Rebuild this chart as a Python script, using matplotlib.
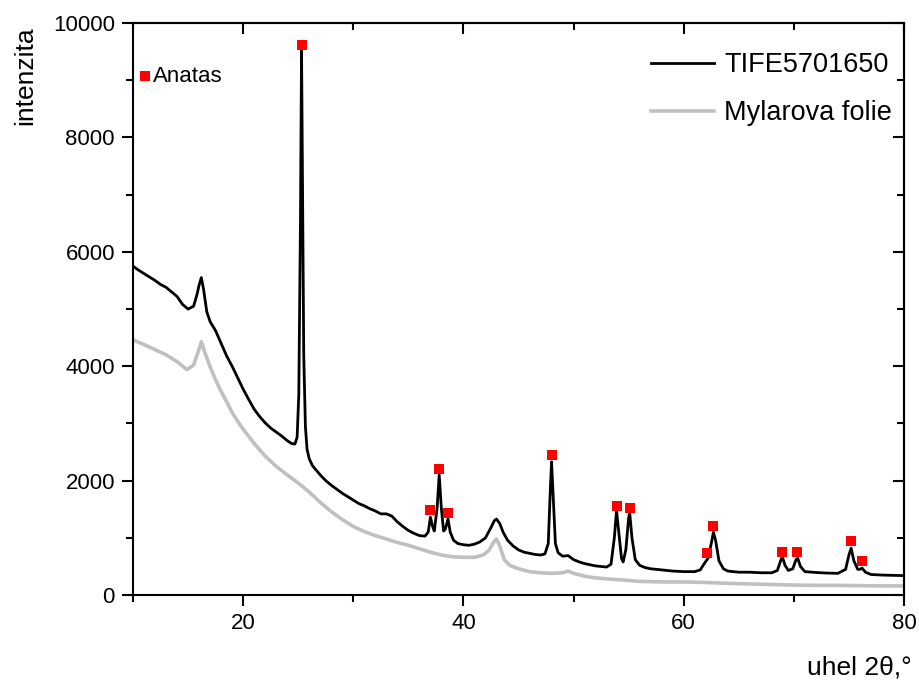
import matplotlib
matplotlib.use("Agg")
import matplotlib.pyplot as plt
from matplotlib.ticker import MultipleLocator, NullFormatter

plt.rcParams['font.family'] = ['Liberation Sans', 'DejaVu Sans']

# DATA

tife_x = [10, 10.5, 11, 11.5, 12, 12.5, 13, 13.5, 14, 14.5, 15, 15.5, 15.8, 16.0, 16.2,
          16.4, 16.7, 17.0, 17.5, 18, 18.5, 19, 19.5, 20, 20.5, 21, 21.5, 22, 22.5, 23,
          23.5, 24, 24.4, 24.7, 24.9, 25.05, 25.2, 25.3, 25.4, 25.5, 25.65, 25.8, 26.0,
          26.3, 26.7, 27, 27.5, 28, 28.5, 29, 29.5, 30, 30.5, 31, 31.5, 32, 32.5, 33,
          33.5, 34, 34.5, 35, 35.5, 36, 36.5, 36.8, 37.0, 37.2, 37.35, 37.6, 37.8, 38.0,
          38.2, 38.35, 38.6, 38.8, 39.1, 39.5, 40, 40.5, 41, 41.5, 42, 42.5, 42.8, 43.0,
          43.3, 43.6, 44.0, 44.5, 45, 45.5, 46, 46.5, 47, 47.4, 47.7, 47.9, 48.0, 48.15,
          48.35, 48.6, 49, 49.5, 50, 50.5, 51, 51.5, 52, 52.5, 53, 53.4, 53.7, 53.9, 54.1,
          54.35, 54.5, 54.75, 55.0, 55.1, 55.3, 55.6, 56, 56.5, 57, 58, 59, 60, 61, 61.5,
          61.9, 62.2, 62.5, 62.7, 62.9, 63.2, 63.6, 64, 65, 66, 67, 68, 68.5, 68.8, 68.95,
          69.2, 69.5, 69.9, 70.2, 70.35, 70.6, 71, 72, 73, 74, 74.7, 75.0, 75.2, 75.45,
          75.8, 76.0, 76.2, 76.5, 77, 78, 79, 80]
tife_y = [5750, 5680, 5620, 5560, 5500, 5430, 5380, 5300, 5220, 5080, 5000, 5050, 5250, 5420, 5550,
          5350, 4950, 4780, 4620, 4400, 4180, 4000, 3800, 3600, 3420, 3250, 3120, 3010, 2920, 2850,
          2780, 2700, 2650, 2640, 2760, 3500, 6500, 9550, 7000, 4200, 2950, 2550, 2380,
          2260, 2170, 2100, 2000, 1920, 1850, 1780, 1720, 1660, 1600, 1560, 1510, 1470, 1420, 1420,
          1380, 1280, 1200, 1130, 1080, 1040, 1030, 1100, 1360, 1200, 1120, 1500, 2100, 1500,
          1120, 1150, 1330, 1100, 960, 900, 880, 870, 890, 930, 1000, 1180, 1300, 1330,
          1250, 1100, 960, 860, 790, 750, 730, 710, 700, 720, 900, 1900, 2330, 1700,
          900, 740, 680, 690, 620, 580, 550, 530, 510, 500, 490, 540, 1000, 1480, 1100,
          640, 580, 800, 1350, 1430, 1000, 620, 520, 480, 460, 440, 420, 410, 410, 440,
          560, 640, 900, 1100, 950, 600, 460, 420, 400, 400, 390, 390, 430, 600, 670,
          520, 430, 460, 620, 645, 500, 410, 395, 385, 380, 450, 700, 820, 600,
          450, 450, 470, 400, 360, 350, 345, 340]

mylar_x = [10, 11, 12, 13, 14, 14.9, 15.5, 16.0, 16.2, 16.5, 17.0, 17.5, 18, 18.5, 19, 19.5,
           20, 21, 22, 23, 24, 25, 26, 27, 28, 29, 30, 31, 32, 33, 34, 35, 36, 37, 38, 39,
           40, 41, 41.8, 42.3, 42.8, 43.0, 43.3, 43.7, 44.2, 45, 46, 47, 48, 49, 49.5, 50,
           51, 52, 54, 56, 58, 60, 62, 64, 66, 68, 70, 72, 74, 76, 78, 80]
mylar_y = [4460, 4380, 4290, 4200, 4080, 3940, 4020, 4300, 4430, 4250, 3990, 3760, 3560, 3380, 3190, 3040,
           2900, 2650, 2430, 2250, 2100, 1960, 1800, 1620, 1460, 1320, 1200, 1110, 1040, 980, 920, 870, 810, 750, 700, 670,
           660, 660, 700, 780, 940, 980, 860, 620, 520, 460, 410, 390, 380, 390, 420, 380,
           330, 300, 270, 240, 230, 230, 220, 205, 195, 185, 175, 170, 170, 165, 160, 160]

anatas_x = [25.35, 37.0, 37.8, 38.6, 48.0, 53.9, 55.1, 62.1, 62.7, 68.9, 70.3, 75.2, 76.2]
anatas_y = [9615, 1486, 2203, 1440, 2448, 1556, 1521, 734, 1212, 757, 752, 950, 600]

# PLOT

fig = plt.figure(figsize=(9.2, 6.84), dpi=100)
ax = fig.add_axes([0.1446, 0.130, 0.838, 0.8363])

ax.plot(mylar_x, mylar_y, color='#c0c0c0', lw=2.6, label='Mylarova folie', zorder=2)
ax.plot(tife_x, tife_y, color='black', lw=2.0, label='TIFE5701650', zorder=3)
ax.plot(anatas_x, anatas_y, 's', color='red', ms=6.5, mew=0, zorder=4)

ax.set_xlim(10, 80)
ax.set_ylim(0, 10000)

ax.xaxis.set_major_locator(MultipleLocator(20))
ax.xaxis.set_minor_locator(MultipleLocator(10))
ax.yaxis.set_major_locator(MultipleLocator(2000))
ax.yaxis.set_minor_locator(MultipleLocator(1000))
ax.tick_params(which='major', direction='out', length=8, width=1.5, labelsize=16, pad=5)
ax.tick_params(which='minor', direction='out', length=5, width=1.5)

top = ax.secondary_xaxis('top')
top.xaxis.set_major_locator(MultipleLocator(20))
top.xaxis.set_minor_locator(MultipleLocator(10))
top.xaxis.set_major_formatter(NullFormatter())
top.tick_params(which='major', direction='in', length=8, width=1.5)
top.tick_params(which='minor', direction='in', length=5, width=1.5)

right = ax.secondary_yaxis('right')
right.yaxis.set_major_locator(MultipleLocator(2000))
right.yaxis.set_minor_locator(MultipleLocator(1000))
right.yaxis.set_major_formatter(NullFormatter())
right.tick_params(which='major', direction='in', length=8, width=1.5)
right.tick_params(which='minor', direction='in', length=5, width=1.5)

for sp in ax.spines.values():
    sp.set_linewidth(1.5)
for a in (top, right):
    for sp in a.spines.values():
        sp.set_linewidth(1.5)

handles, labels = ax.get_legend_handles_labels()
ax.legend(handles[::-1], labels[::-1], loc='upper right', frameon=False, fontsize=19.5,
          handlelength=2.35, handletextpad=0.35, labelspacing=0.8,
          borderaxespad=0.05, bbox_to_anchor=(1.0, 0.97))

ax.plot([0.0156], [0.907], 's', color='red', ms=6.5, mew=0,
        transform=ax.transAxes, clip_on=False)
ax.text(0.026, 0.907, 'Anatas', transform=ax.transAxes, fontsize=16,
        ha='left', va='center')

fig.text(912 / 920, 1 - 667 / 684, 'uhel 2\u03b8,\u00b0', fontsize=19, ha='right', va='center')
fig.text(25 / 920, 1 - 76 / 684, 'intenzita', fontsize=19, rotation=90, ha='center', va='center')

fig.savefig('out.png', dpi=100)
